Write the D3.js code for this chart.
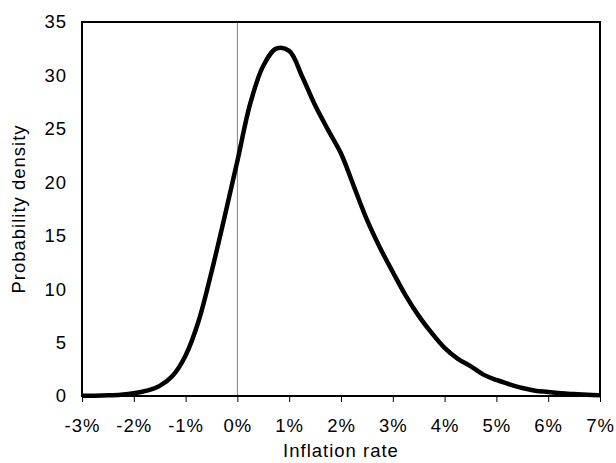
<!DOCTYPE html>
<html>
<head>
<meta charset="utf-8">
<script src="https://cdn.jsdelivr.net/npm/d3@7"></script>
<style>
	body { margin: 0; background: #fff; }
	text { font-family: "Liberation Sans", Arial, sans-serif; fill: #000; letter-spacing: 1px; }
</style>
</head>
<body>
<svg id="chart" width="616" height="463"></svg>
<script>
// inflation rate (%) and probability density
var rates = [-3, -2.75, -2.5, -2.25, -2, -1.75, -1.5, -1.25, -1, -0.75, -0.5, -0.25,
	0, 0.25, 0.5, 0.75, 1, 1.25, 1.5, 1.75, 2, 2.25, 2.5, 2.75, 3, 3.25, 3.5, 3.75,
	4, 4.25, 4.5, 4.75, 5, 5.25, 5.5, 5.75, 6, 6.25, 6.5, 6.75, 7];
var density = [0.02, 0.03, 0.06, 0.12, 0.25, 0.5, 0.95, 1.9, 3.8, 7.0, 11.6, 16.7,
	22.0, 27.4, 30.9, 32.5, 32.3, 29.9, 27.2, 24.9, 22.7, 19.6, 16.5, 13.9, 11.6, 9.4, 7.5, 5.9,
	4.5, 3.5, 2.8, 2.0, 1.5, 1.1, 0.75, 0.5, 0.38, 0.25, 0.18, 0.12, 0.08];
var xTicks = [-3, -2, -1, 0, 1, 2, 3, 4, 5, 6, 7];
var yTicks = [0, 5, 10, 15, 20, 25, 30, 35];

var svg = d3.select("#chart");
var margin = { top: 22, right: 16, bottom: 67, left: 82 };
var width = 616 - margin.left - margin.right;
var height = 463 - margin.top - margin.bottom;
var fontSize = "18.5px";

var x = d3.scaleLinear().domain([-3, 7]).range([0, width]);
var y = d3.scaleLinear().domain([0, 35]).range([height, 0]);

var g = svg.append("g")
	.attr("transform", "translate(" + margin.left + "," + margin.top + ")");

var data = rates.map(function (r, i) { return { r: r, d: density[i] }; });

// zero line
g.append("line")
	.attr("x1", x(0)).attr("x2", x(0))
	.attr("y1", 0).attr("y2", height)
	.attr("stroke", "#808080")
	.attr("stroke-width", 1);

var xAxis = g.append("g")
	.attr("class", "axis axis--x")
	.attr("transform", "translate(0," + height + ")")
	.call(d3.axisBottom(x).tickValues(xTicks).tickSize(6).tickPadding(17)
		.tickFormat(function (d) { return d + "%"; }));
xAxis.select(".domain").remove();
xAxis.selectAll("text").style("font-size", fontSize);

var yAxis = g.append("g")
	.attr("class", "axis axis--y")
	.call(d3.axisLeft(y).tickValues(yTicks).tickSize(0).tickPadding(15));
yAxis.select(".domain").remove();
yAxis.selectAll("text").style("font-size", fontSize);

// plot frame
g.append("rect")
	.attr("x", 0).attr("y", 0)
	.attr("width", width).attr("height", height)
	.attr("fill", "none")
	.attr("stroke", "#000")
	.attr("stroke-width", 2);

var line = d3.line()
	.x(function (d) { return x(d.r); })
	.y(function (d) { return y(Math.max(0, d.d)); })
	.curve(d3.curveCatmullRom.alpha(0.5));

g.append("path")
	.datum(data)
	.attr("fill", "none")
	.attr("stroke", "#000")
	.attr("stroke-width", 4.5)
	.attr("stroke-linejoin", "round")
	.attr("d", line);

g.append("text")
	.attr("x", width / 2)
	.attr("y", height + 61)
	.attr("text-anchor", "middle")
	.style("font-size", fontSize)
	.text("Inflation rate");

g.append("text")
	.attr("transform", "rotate(-90)")
	.attr("x", -height / 2)
	.attr("y", -margin.left + 25)
	.attr("text-anchor", "middle")
	.style("font-size", fontSize)
	.text("Probability density");
</script>
</body>
</html>
